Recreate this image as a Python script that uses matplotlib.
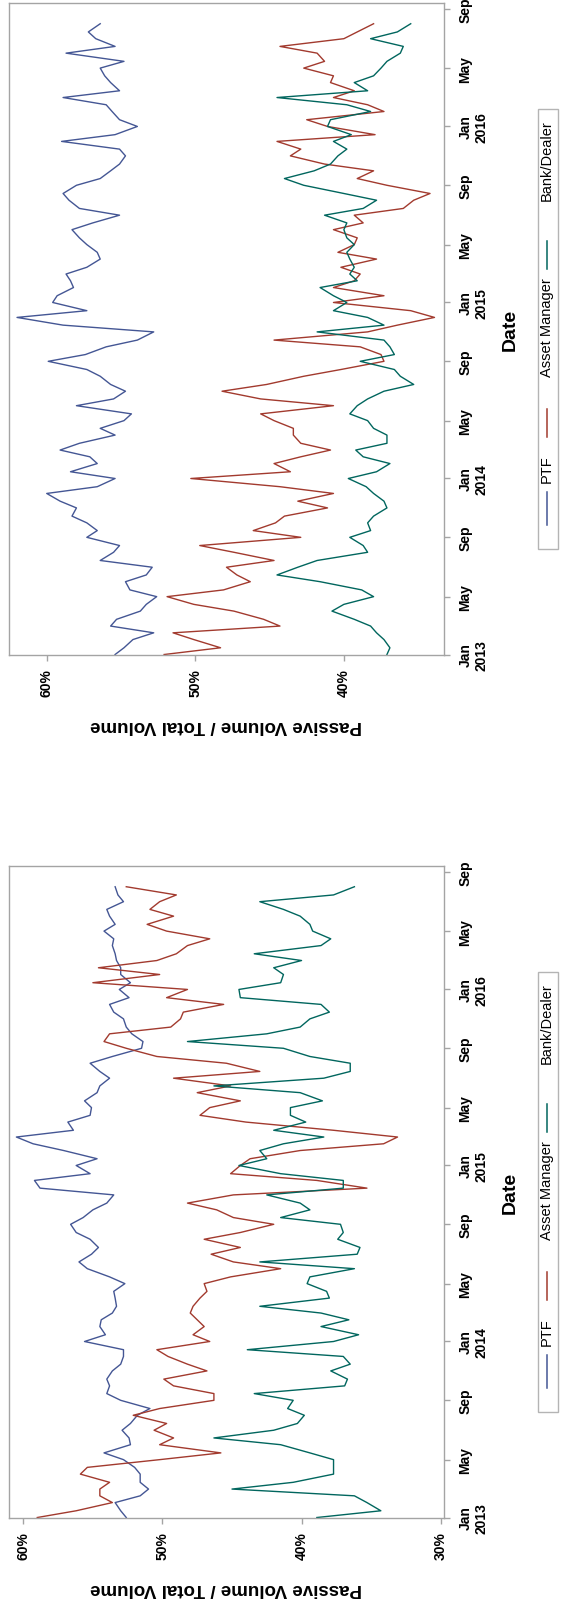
import matplotlib
matplotlib.use("Agg")
import matplotlib.pyplot as plt
import pandas as pd
from matplotlib.lines import Line2D
from matplotlib.patches import Rectangle

plt.rcParams["font.family"] = ["Liberation Sans", "DejaVu Sans"]

# semi-monthly observations, Jan 2013 - Aug 2016
dates = pd.date_range("2013-01-01", "2016-08-01", freq="SMS")

# upper panel
ptf_upper = [
    55.4, 54.8, 54.2, 52.8, 55.7, 55.3, 53.7, 53.3, 52.6, 54.4, 54.7, 53.3, 52.9, 56.4, 55.5, 55.1, 57.3, 56.6,
    57.3, 58.3, 58.0, 59.1, 60.0, 56.6, 55.4, 58.4, 56.6, 57.1, 59.1, 57.8, 55.4, 56.4, 54.8, 54.3, 58.0, 55.5,
    54.7, 55.7, 56.4, 57.3, 59.9, 57.4, 56.0, 53.9, 52.8, 58.9, 62.0, 57.3, 59.6, 59.3, 58.2, 58.4, 58.7, 57.3,
    56.4, 56.6, 57.3, 57.8, 58.3, 56.9, 55.1, 57.8, 58.5, 58.9, 58.0, 56.4, 55.7, 55.1, 54.7, 55.1, 59.0, 55.4,
    53.9, 55.1, 55.6, 56.0, 58.9, 55.1, 55.7, 56.1, 56.4, 54.8, 58.7, 55.4, 56.7, 57.2, 56.4,
]
am_upper = [
    52.1, 48.3, 50.1, 51.5, 44.3, 45.4, 47.4, 50.1, 51.9, 48.1, 46.3, 47.2, 47.9, 44.7, 47.4, 49.7, 42.9, 46.1,
    44.6, 44.0, 41.1, 43.1, 40.7, 44.3, 50.3, 43.6, 44.7, 42.9, 40.9, 42.9, 43.4, 43.4, 44.7, 45.6, 40.7, 45.6,
    48.2, 45.2, 42.7, 40.2, 37.3, 37.5, 38.9, 44.7, 38.4, 36.4, 33.9, 35.5, 40.7, 37.3, 40.7, 39.3, 38.9, 40.2,
    37.8, 40.4, 39.3, 39.1, 40.7, 38.7, 39.3, 36.0, 35.3, 34.2, 37.1, 39.1, 38.0, 41.3, 43.6, 42.9, 44.5, 37.9,
    41.1, 42.5, 37.3, 38.4, 40.7, 39.3, 40.9, 40.7, 42.7, 41.3, 41.8, 44.3, 40.0, 39.1, 38.0,
]
bd_upper = [
    37.1, 36.9, 37.3, 37.8, 38.2, 39.3, 40.8, 40.0, 38.0, 38.8, 41.6, 44.5, 43.1, 41.8, 38.4, 38.7, 39.6, 38.2,
    38.4, 38.0, 37.1, 37.3, 38.0, 38.5, 39.7, 37.8, 36.9, 38.7, 39.2, 37.1, 37.1, 38.0, 38.4, 39.6, 39.1, 38.4,
    37.3, 35.3, 36.2, 36.6, 38.9, 36.6, 36.9, 37.3, 41.8, 37.3, 38.4, 40.7, 39.8, 40.7, 41.6, 39.1, 39.6, 39.3,
    39.6, 39.8, 39.3, 39.8, 40.0, 39.8, 41.3, 38.7, 37.8, 40.0, 42.7, 44.0, 42.0, 40.9, 40.4, 39.8, 40.7, 39.5,
    41.1, 40.9, 38.2, 39.8, 44.5, 38.4, 39.3, 38.0, 37.5, 37.1, 36.2, 36.0, 38.2, 36.4, 35.5,
]

# lower panel
ptf_lower = [
    52.6, 53.0, 53.4, 51.6, 51.0, 51.6, 51.6, 52.0, 52.8, 54.2, 52.3, 52.4, 52.9, 52.3, 51.8, 50.9, 53.0, 54.0,
    53.8, 54.0, 53.6, 53.0, 52.8, 52.8, 55.6, 54.1, 54.5, 54.4, 53.6, 53.3, 53.4, 53.5, 52.7, 53.8, 55.4, 56.0,
    55.1, 54.6, 55.2, 56.2, 56.6, 55.7, 55.0, 54.0, 53.5, 58.8, 59.2, 55.2, 56.2, 54.7, 57.1, 59.3, 60.5, 56.4,
    56.8, 55.2, 55.1, 55.6, 54.7, 54.5, 53.8, 54.5, 55.2, 53.6, 51.5, 51.4, 52.2, 52.6, 52.8, 53.5, 53.8, 52.4,
    53.1, 52.3, 53.0, 53.0, 53.3, 53.4, 53.6, 53.5, 54.2, 53.4, 53.8, 54.0, 52.8, 53.2, 53.4,
]
am_lower = [
    59.0, 56.2, 53.6, 54.5, 54.5, 53.8, 55.9, 55.4, 50.2, 45.8, 50.2, 49.2, 50.6, 49.7, 52.1, 50.2, 46.3, 46.3,
    49.2, 49.9, 46.8, 48.2, 49.6, 50.4, 46.6, 47.8, 47.0, 47.5, 48.0, 47.8, 47.3, 46.8, 47.0, 45.1, 41.5, 44.9,
    46.5, 44.4, 47.0, 44.4, 42.0, 44.9, 46.1, 48.2, 44.9, 35.3, 38.9, 45.1, 44.4, 43.7, 40.1, 34.1, 33.1, 37.7,
    44.0, 47.3, 46.6, 44.4, 47.5, 45.1, 49.2, 43.0, 45.4, 50.4, 52.6, 54.2, 53.8, 49.4, 48.7, 48.5, 45.6, 49.7,
    48.2, 55.0, 50.2, 54.6, 50.4, 49.0, 48.2, 46.6, 49.7, 51.1, 49.2, 50.9, 50.2, 49.0, 52.6,
]
bd_lower = [
    38.9, 34.3, 35.3, 36.2, 45.0, 40.6, 37.7, 37.7, 37.7, 39.4, 41.5, 46.3, 42.0, 40.3, 39.8, 41.0, 40.6, 43.4,
    36.9, 36.7, 37.9, 36.5, 37.0, 43.9, 37.7, 35.9, 38.6, 36.6, 38.6, 43.0, 38.0, 38.2, 39.6, 39.4, 36.2, 43.0,
    36.0, 35.8, 37.4, 37.0, 37.2, 41.5, 39.4, 40.1, 42.5, 37.0, 37.0, 41.5, 44.5, 42.5, 43.0, 41.3, 38.4, 42.0,
    39.7, 40.8, 40.8, 38.5, 40.1, 46.3, 38.4, 36.5, 36.5, 39.4, 41.3, 48.2, 42.5, 40.1, 39.4, 38.0, 38.6, 44.4,
    44.5, 41.5, 41.3, 42.0, 40.0, 43.4, 38.6, 37.9, 39.2, 39.4, 40.1, 41.3, 43.0, 37.7, 36.2,
]

series_names = ["PTF", "Asset Manager", "Bank/Dealer"]
series_colors = ["#445694", "#A23A2E", "#01665E"]

tick_dates = pd.date_range("2013-01-01", "2016-09-01", freq="4MS")
date_labels = ["Jan\n2013", "May", "Sep", "Jan\n2014", "May", "Sep",
               "Jan\n2015", "May", "Sep", "Jan\n2016", "May", "Sep"]

FRAME = "#a4a4a4"


def draw_legend(ax):
    ax.add_patch(Rectangle((1.216, 0.163), 0.046, 0.675, transform=ax.transAxes,
                           fill=False, edgecolor="#b4b4b4", lw=1.0, clip_on=False))
    xc = 1.237
    line_spans = [(0.200, 0.250), (0.334, 0.377), (0.592, 0.635)]
    text_pos = [0.287, 0.504, 0.760]
    for name, color, (y0, y1), ty in zip(series_names, series_colors, line_spans, text_pos):
        ax.add_line(Line2D([xc, xc], [y0, y1], transform=ax.transAxes, color=color,
                           lw=1.1, clip_on=False))
        ax.text(xc, ty, name, transform=ax.transAxes, rotation=90, ha="center",
                va="center", fontsize=10.5)


def draw_panel(ax, ptf, am, bd, xlim, pct_ticks):
    for values, color in zip([ptf, am, bd], series_colors):
        ax.plot(values, dates, color=color, lw=1.0)

    ax.set_xlim(*xlim)
    ax.set_ylim(pd.Timestamp("2012-12-31"), pd.Timestamp("2016-09-13"))

    ax.set_xticks(pct_ticks)
    ax.set_xticklabels([f"{t}%" for t in pct_ticks], rotation=90, fontsize=10,
                       fontweight="bold")

    ax.yaxis.tick_right()
    ax.set_yticks(tick_dates)
    ax.set_yticklabels(date_labels, rotation=90, fontsize=10, fontweight="bold",
                       va="center", ha="left", multialignment="center")

    ax.tick_params(axis="both", direction="out", length=4.5, width=1.0, color=FRAME)
    ax.tick_params(axis="x", pad=5)
    ax.tick_params(axis="y", pad=6)
    for spine in ax.spines.values():
        spine.set_color(FRAME)
        spine.set_linewidth(1.0)

    ax.text(0.5, -0.106, "Passive Volume / Total Volume", transform=ax.transAxes,
            rotation=180, ha="center", va="center", fontsize=13.5, fontweight="bold")
    ax.text(1.152, 0.5, "Date", transform=ax.transAxes, rotation=90, ha="center",
            va="center", fontsize=14, fontweight="bold")
    draw_legend(ax)


fig = plt.figure(figsize=(5.61, 16.06), dpi=100)
ax_top = fig.add_axes([0.01604, 0.59153, 0.77540, 0.40598])
ax_bot = fig.add_axes([0.01604, 0.05417, 0.77540, 0.40598])

draw_panel(ax_top, ptf_upper, am_upper, bd_upper, (62.54, 33.26), [60, 50, 40])
draw_panel(ax_bot, ptf_lower, am_lower, bd_lower, (61.03, 29.76), [60, 50, 40, 30])

fig.savefig("out.png", dpi=100, facecolor="white")
